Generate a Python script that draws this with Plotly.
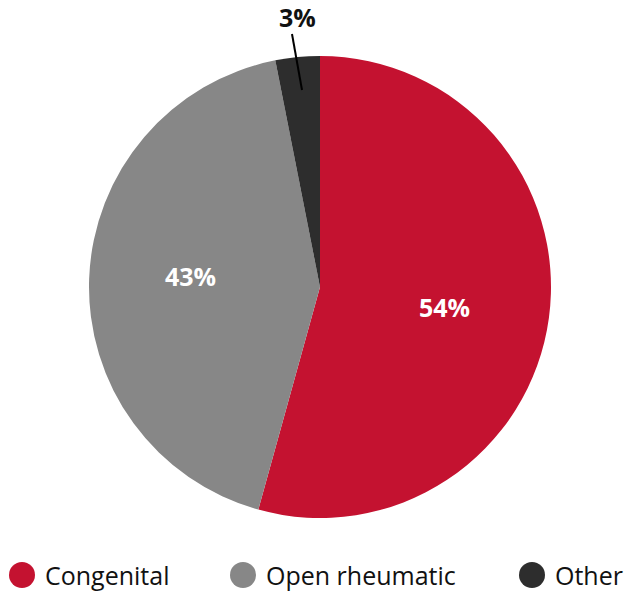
import plotly.graph_objects as go

labels = ["Congenital", "Open rheumatic", "Other"]
values = [54.3, 42.6, 3.1]
colors = ["#C41230", "#878787", "#2D2D2D"]
text_labels = ["54%", "43%", "3%"]

W, H = 631, 595

fig = go.Figure()
fig.add_trace(go.Pie(
    labels=labels, values=values, sort=False, direction="clockwise", rotation=0,
    marker=dict(colors=colors, line=dict(width=0)),
    textinfo="none", hoverinfo="skip", showlegend=False,
    domain=dict(x=[89/W, 551/W], y=[(H-518)/H, (H-56)/H]),
))

def px(x):
    return x / W

def py(y):
    return 1 - y / H

annots = []
lbl_font = "Open Sans"
annots.append(dict(x=px(444), y=py(307), xanchor="center", yanchor="middle",
                   text="<b>" + text_labels[0] + "</b>", showarrow=False,
                   font=dict(color="white", size=25, family=lbl_font)))
annots.append(dict(x=px(190), y=py(276), xanchor="center", yanchor="middle",
                   text="<b>" + text_labels[1] + "</b>", showarrow=False,
                   font=dict(color="white", size=25, family=lbl_font)))
annots.append(dict(x=px(297), y=py(17), xanchor="center", yanchor="middle",
                   text="<b>" + text_labels[2] + "</b>", showarrow=False,
                   font=dict(color="#111111", size=25, family=lbl_font)))

shapes = [dict(type="line", xref="paper", yref="paper", x0=px(292), y0=py(34), x1=px(302), y1=py(90),
               line=dict(color="black", width=2))]

leg_x = [22, 243, 532]
for lx, lab, col in zip(leg_x, labels, colors):
    r = 13
    shapes.append(dict(type="circle", xref="paper", yref="paper",
                       x0=px(lx - r), x1=px(lx + r), y0=py(575 + r), y1=py(575 - r),
                       fillcolor=col, line=dict(width=0)))
    annots.append(dict(x=px(lx + 21), y=py(575), xanchor="left", yanchor="middle",
                       text=lab, showarrow=False,
                       font=dict(color="#111111", size=25, family=lbl_font)))

fig.update_layout(
    width=W, height=H, margin=dict(l=0, r=0, t=0, b=0),
    paper_bgcolor="white", plot_bgcolor="white",
    annotations=annots, shapes=shapes,
)
fig.write_html("out.html", config={"displayModeBar": False},
               post_script="document.body.style.margin='0';document.body.style.overflow='hidden';")
